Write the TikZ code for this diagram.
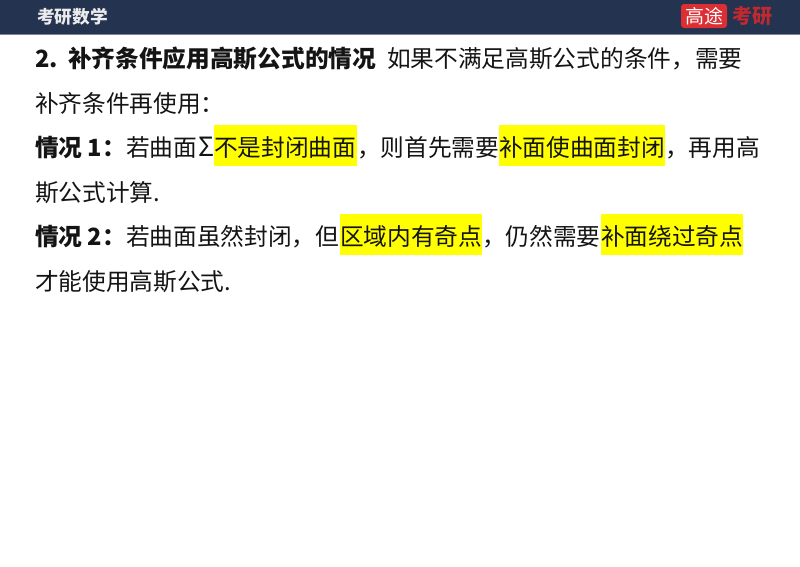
\documentclass[tikz,border=0pt]{standalone}
\usepackage{fontspec}
\setmainfont{Noto Sans CJK SC}
\definecolor{barcol}{HTML}{233350}
\definecolor{hl}{HTML}{FFFF00}
\definecolor{logored}{HTML}{DC2F33}
\definecolor{logodim}{HTML}{BE2A30}
\definecolor{inkcol}{HTML}{141414}
\tikzset{
  x=1pt,y=-1pt,
  body/.style={anchor=base west,inner sep=0pt,outer sep=0pt,text=inkcol,font=\fontsize{23.7}{23.7}\selectfont},
  bold/.style={body,font=\fontsize{23.7}{23.7}\selectfont\bfseries},
  mark box/.style={fill=hl,draw=none},
}
\begin{document}
\begin{tikzpicture}
\useasboundingbox (0,0) rectangle (800,566);
\fill[white] (0,0) rectangle (800,566);
\fill[barcol] (0,0) rectangle (800,34);
\fill[barcol!60!white] (0,33.6) rectangle (800,34.6);
\node[anchor=base west,inner sep=0pt,text=white!92!black,font=\fontsize{17.7}{17.7}\selectfont\bfseries] (hdr) at (37,23.5) {考研数学};
\fill[logored,rounded corners=3pt] (681,4) rectangle (727,28);
\node[anchor=center,inner sep=0pt,text=white,font=\fontsize{19}{19}\selectfont] (logoa) at (704,16) {高途};
\node[anchor=center,inner sep=0pt,text=logodim,font=\fontsize{20}{20}\selectfont\bfseries] (logob) at (752,16) {考研};
% highlights
\fill[mark box] (214,125) rectangle (357,166);
\fill[mark box] (499,125) rectangle (665,166);
\fill[mark box] (340,214) rectangle (482,255);
\fill[mark box] (601,214) rectangle (743,255);
% line 1
\node[bold] (l1a) at (35,67) {2.};
\node[bold] (l1b) at (68,67) {补齐条件应用高斯公式的情况};
\node[body] (l1c) at (387,67) {如果不满足高斯公式的条件，需要};
% line 2
\node[body] (l2) at (35,112.5) {补齐条件再使用：};
% line 3
\node[bold] (l3a) at (35,156.5) {情况 1：};
\node[body] (l3b) at (126,156.5) {若曲面};
\node[body,font=\fontsize{26.5}{26.5}\selectfont] (l3s) at (198,156.5) {Σ};
\node[body] (l3c) at (214,156.5) {不是封闭曲面};
\node[body] (l3d) at (357,156.5) {，则首先需要};
\node[body] (l3e) at (499,156.5) {补面使曲面封闭};
\node[body] (l3f) at (665,156.5) {，再用高};
% line 4
\node[body] (l4) at (35,201.5) {斯公式计算.};
% line 5
\node[bold] (l5a) at (35,245) {情况 2：};
\node[body] (l5b) at (126,245) {若曲面虽然封闭，但};
\node[body] (l5c) at (340,245) {区域内有奇点};
\node[body] (l5d) at (482,245) {，仍然需要};
\node[body] (l5e) at (601,245) {补面绕过奇点};
% line 6
\node[body] (l6) at (35,290.5) {才能使用高斯公式.};
\end{tikzpicture}
\end{document}
